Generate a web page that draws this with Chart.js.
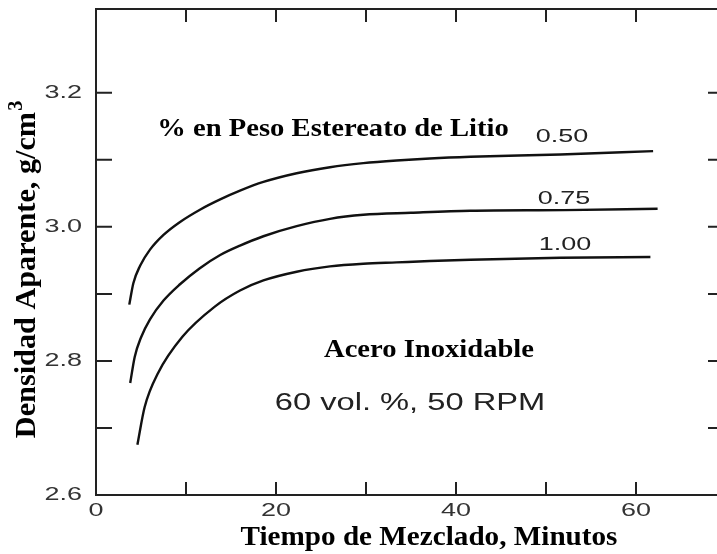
<!DOCTYPE html>
<html>
<head>
<meta charset="utf-8">
<script src="https://cdn.jsdelivr.net/npm/chart.js@4.4.1/dist/chart.umd.min.js"></script>
<style>
    html, body { margin: 0; padding: 0; background: #fff; }
    #densityChart { display: block; }
</style>
</head>
<body>
<canvas id="densityChart" width="717" height="554"></canvas>
<script>
// Mixing time (min) and apparent density (g/cm3) per lithium stearate level
const time050 = [3.7, 4.15, 4.9, 6.0, 7.5, 9.3, 11.6, 13.8, 16.0, 18.6, 22.3, 26.0, 29.7, 33.4, 37.1, 41.6, 51.6, 61.9];
const dens050 = [2.884, 2.916, 2.942, 2.966, 2.988, 3.007, 3.026, 3.041, 3.054, 3.067, 3.080, 3.089, 3.095, 3.099, 3.102, 3.1045, 3.108, 3.113];

const time075 = [3.8, 4.3, 5.0, 6.0, 7.5, 9.3, 11.5, 13.8, 16.0, 18.6, 22.3, 26.0, 29.7, 35.0, 41.6, 52.0, 62.4];
const dens075 = [2.767, 2.806, 2.835, 2.862, 2.890, 2.914, 2.938, 2.958, 2.972, 2.986, 3.001, 3.012, 3.018, 3.021, 3.024, 3.025, 3.027];

const time100 = [4.6, 5.4, 6.9, 9.6, 13.2, 16.0, 18.6, 22.3, 26.0, 29.7, 33.4, 37.1, 41.6, 51.6, 61.6];
const dens100 = [2.675, 2.731, 2.782, 2.836, 2.881, 2.905, 2.920, 2.933, 2.941, 2.945, 2.947, 2.949, 2.951, 2.954, 2.955];

const seriesLabels = ['0.50', '0.75', '1.00'];

// Axis ticks
const xTickLabels = [0, 20, 40, 60];
const xTickMarks = [10, 20, 30, 40, 50, 60];
const yTickLabels = [2.6, 2.8, 3.0, 3.2];
const yTickMarks = [2.7, 2.8, 2.9, 3.0, 3.1, 3.2];

const toPoints = (xs, ys) => xs.map((t, i) => ({ x: t, y: ys[i] }));

// draw text squeezed/stretched horizontally like the scanned figure
const drawText = (ctx, text, cx, cy, font, sx, color, align) => {
    ctx.save();
    ctx.translate(cx, cy);
    ctx.scale(sx, 1);
    ctx.font = font;
    ctx.fillStyle = color;
    ctx.textAlign = align || 'center';
    ctx.textBaseline = 'middle';
    ctx.fillText(text, 0, 0);
    ctx.restore();
};

const framePlugin = {
    id: 'frame',
    afterDraw(chart) {
        const { ctx, chartArea: a, scales: { x, y } } = chart;
        ctx.save();
        ctx.strokeStyle = '#222';
        ctx.lineWidth = 2;
        ctx.lineCap = 'butt';

        // axis frame (left, bottom, top)
        ctx.beginPath();
        ctx.moveTo(a.right, a.top);
        ctx.lineTo(a.left, a.top);
        ctx.lineTo(a.left, a.bottom);
        ctx.lineTo(a.right, a.bottom);
        ctx.stroke();

        // inward tick marks
        ctx.beginPath();
        xTickMarks.forEach(v => {
            const px = x.getPixelForValue(v);
            ctx.moveTo(px, a.bottom);
            ctx.lineTo(px, a.bottom - 13);
            ctx.moveTo(px, a.top);
            ctx.lineTo(px, a.top + 13);
        });
        yTickMarks.forEach(v => {
            const py = y.getPixelForValue(v);
            ctx.moveTo(a.left, py);
            ctx.lineTo(a.left + 16, py);
            ctx.moveTo(a.right, py);
            ctx.lineTo(a.right - 9, py);
        });
        ctx.stroke();

        // tick labels
        const tickFont = '19px "Liberation Sans", Arial, sans-serif';
        xTickLabels.forEach(v => {
            drawText(ctx, String(v), x.getPixelForValue(v), a.bottom + 16, tickFont, 1.42, '#333');
        });
        yTickLabels.forEach(v => {
            drawText(ctx, v.toFixed(1), a.left - 14, y.getPixelForValue(v), tickFont, 1.42, '#333', 'right');
        });

        // curve labels
        const curveLabelPos = [[562, 137], [564, 199], [565, 245]];
        seriesLabels.forEach((lbl, i) => {
            drawText(ctx, lbl, curveLabelPos[i][0], curveLabelPos[i][1], tickFont, 1.42, '#222');
        });

        // annotations
        const serifBold = 'bold 26px "Liberation Serif", "Times New Roman", serif';
        drawText(ctx, '% en Peso Estereato de Litio', 333, 129, serifBold, 1.1, '#000');
        drawText(ctx, 'Acero Inoxidable', 429, 350, serifBold, 1.1, '#000');
        drawText(ctx, '60 vol. %, 50 RPM', 410, 404, '23px "Liberation Sans", Arial, sans-serif', 1.42, '#222');

        // axis titles
        const titleFont = 'bold 27px "Liberation Serif", "Times New Roman", serif';
        drawText(ctx, 'Tiempo de Mezclado, Minutos', 429, 538, titleFont, 1.08, '#000');

        ctx.save();
        ctx.translate(27, 270);
        ctx.rotate(-Math.PI / 2);
        ctx.scale(1.12, 1.12);
        const main = 'Densidad Aparente, g/cm';
        const supFont = 'bold 18px "Liberation Serif", "Times New Roman", serif';
        ctx.font = titleFont;
        const w1 = ctx.measureText(main).width;
        ctx.font = supFont;
        const w2 = ctx.measureText('3').width;
        const start = -(w1 + w2) / 2;
        ctx.fillStyle = '#000';
        ctx.textBaseline = 'middle';
        ctx.textAlign = 'left';
        ctx.font = titleFont;
        ctx.fillText(main, start, 0);
        ctx.font = supFont;
        ctx.fillText('3', start + w1 + 1, -9);
        ctx.restore();

        ctx.restore();
    }
};

const lineStyle = {
    borderColor: '#111',
    borderWidth: 2.4,
    pointRadius: 0,
    fill: false,
    cubicInterpolationMode: 'monotone'
};

const chartCanvas = document.getElementById('densityChart');
new Chart(chartCanvas.getContext('2d'), {
    type: 'line',
    data: {
        datasets: [
            { label: seriesLabels[0], data: toPoints(time050, dens050), ...lineStyle },
            { label: seriesLabels[1], data: toPoints(time075, dens075), ...lineStyle },
            { label: seriesLabels[2], data: toPoints(time100, dens100), ...lineStyle }
        ]
    },
    options: {
        responsive: false,
        animation: false,
        layout: { padding: { top: 9, left: 0, right: 0, bottom: 0 } },
        plugins: {
            legend: { display: false },
            tooltip: { enabled: false }
        },
        scales: {
            x: {
                type: 'linear',
                min: 0,
                max: 69,
                grid: { display: false },
                border: { display: false },
                ticks: { display: false },
                afterFit: (scale) => { scale.height = 59; }
            },
            y: {
                type: 'linear',
                min: 2.6,
                max: 3.325,
                grid: { display: false },
                border: { display: false },
                ticks: { display: false },
                afterFit: (scale) => { scale.width = 96; }
            }
        }
    },
    plugins: [framePlugin]
});
</script>
</body>
</html>
